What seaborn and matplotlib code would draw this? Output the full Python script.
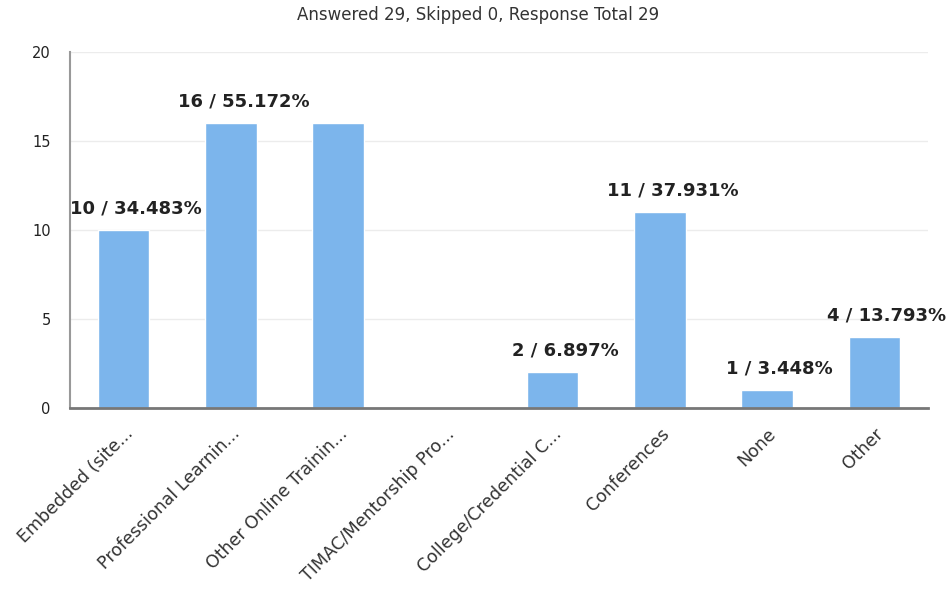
import matplotlib.pyplot as plt
import seaborn as sns
import pandas as pd

categories = ["Embedded (site...", "Professional Learnin...", "Other Online Trainin...",
              "TIMAC/Mentorship Pro...", "College/Credential C...", "Conferences", "None", "Other"]
counts = [10, 16, 16, 0, 2, 11, 1, 4]
percents = ["34.483%", "55.172%", "55.172%", "0%", "6.897%", "37.931%", "3.448%", "13.793%"]
show_label = [True, True, False, False, True, True, True, True]
title = "Answered 29, Skipped 0, Response Total 29"

df = pd.DataFrame({"category": categories, "count": counts})

sns.set_style("white")
plt.rcParams['font.family'] = ['DejaVu Sans']

fig = plt.figure(figsize=(9.47, 6.01), dpi=100)
ax = fig.add_axes([0.074, 0.321, 0.906, 0.592])

sns.barplot(data=df, x="category", y="count", color="#7cb5ec", saturation=1,
            width=0.48, ax=ax, zorder=2)

ax.set_ylim(0, 20)
ax.set_xlim(-0.5, len(categories) - 0.5)
ax.set_yticks([0, 5, 10, 15, 20])
ax.yaxis.grid(True, color="#ececec", linewidth=1, zorder=0)
ax.set_axisbelow(True)

for i, (c, p, s) in enumerate(zip(counts, percents, show_label)):
    if s:
        ax.annotate(f"{c} / {p}", xy=(i, c), xytext=(9, 9), textcoords="offset points",
                    ha="center", va="bottom", fontsize=13, fontweight="bold",
                    color="#222222", annotation_clip=False)

ax.set_xlabel("")
ax.set_ylabel("")
fig.text(0.505, 0.975, title, fontsize=12, color="#333333", ha="center", va="center")
ax.tick_params(axis="y", length=0, labelsize=10.5, pad=14, colors="#222222")
ax.tick_params(axis="x", length=0, labelsize=12.5, pad=12, colors="#333333")
plt.setp(ax.get_xticklabels(), rotation=45, ha="right", rotation_mode="anchor")

for side in ["top", "right"]:
    ax.spines[side].set_visible(False)
ax.spines["left"].set_color("#999999")
ax.spines["left"].set_linewidth(1.5)
ax.spines["bottom"].set_color("#777777")
ax.spines["bottom"].set_linewidth(2)

plt.savefig("out.png", dpi=100)
